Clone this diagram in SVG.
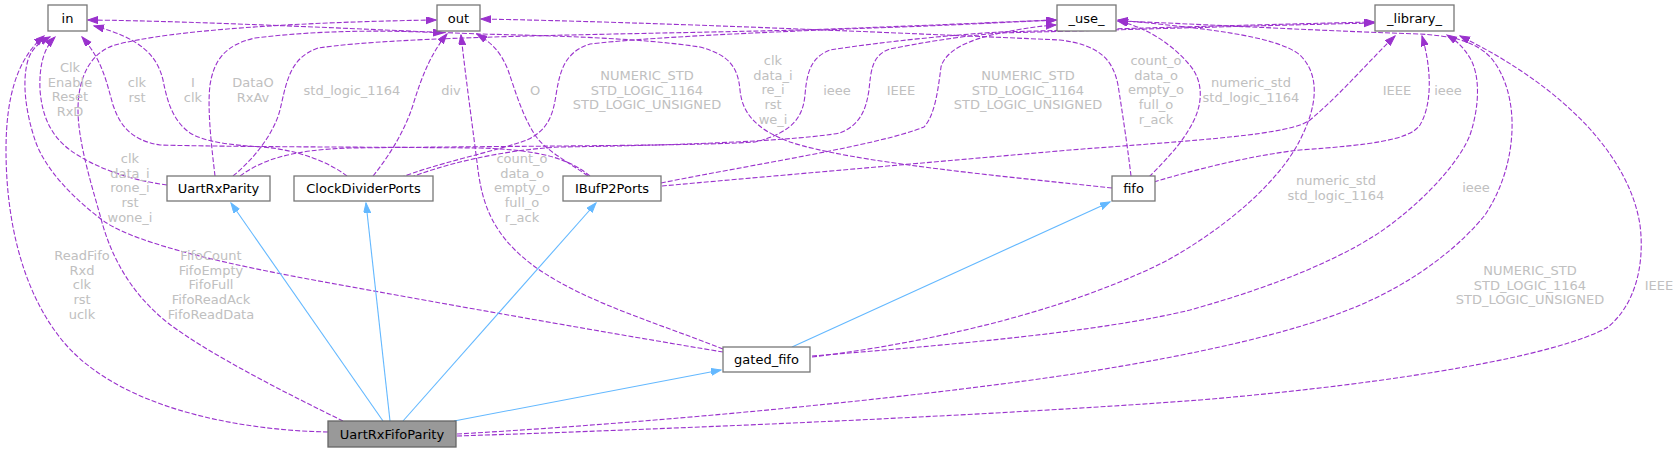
<svg xmlns="http://www.w3.org/2000/svg" width="1680" height="452" viewBox="0 0 1680 452">
<defs>
<marker id="ap" markerUnits="userSpaceOnUse" markerWidth="11" markerHeight="8" refX="10" refY="3.5" orient="auto"><path d="M0,0 L10,3.5 L0,7 z" fill="#9a32cd" stroke="#9a32cd" stroke-width="1"/></marker>
<marker id="ab" markerUnits="userSpaceOnUse" markerWidth="11" markerHeight="8" refX="10" refY="3.5" orient="auto"><path d="M0,0 L10,3.5 L0,7 z" fill="#63b8ff" stroke="#63b8ff" stroke-width="1"/></marker>
</defs>
<style>
.d{fill:none;stroke:#9a32cd;stroke-width:1.1;stroke-dasharray:5,2;marker-end:url(#ap)}
.b{fill:none;stroke:#63b8ff;stroke-width:1.1;marker-end:url(#ab)}
.lb{font-family:"DejaVu Sans",sans-serif;font-size:13px;fill:#c0c0c0;text-anchor:middle}
.nt{font-family:"DejaVu Sans",sans-serif;font-size:13px;fill:#000;text-anchor:middle}
.nb{fill:#fff;stroke:#777;stroke-width:1.3}
.nr{fill:#999;stroke:#666;stroke-width:1.3}
</style>
<rect width="1680" height="452" fill="#fff"/>
<g id="connectors">
<path class="d" d="M 328,432 C 230,430 110,405 58,335 C 20,285 6,215 6,150 C 6,95 18,58 44,36"/>
<path class="d" d="M 723,352 C 620,335 450,305 330,283 C 230,265 140,245 105,222 C 75,200 45,170 35,140 C 25,110 22,80 28,60 C 32,48 40,42 50,37"/>
<path class="d" d="M 167,185 C 130,180 95,168 70,150 C 50,135 42,115 40,90 C 39,65 44,48 55,37"/>
<path class="d" d="M 347,176 C 330,163 300,150 262,147 C 230,145 205,142 190,133 C 172,120 167,100 163,80 C 157,55 140,38 94,26"/>
<path class="d" d="M 590,176 C 570,160 545,150 480,148 C 380,147 230,147 160,145 C 130,140 120,125 113,105 C 106,80 102,60 82,37"/>
<path class="d" d="M 1112,188 C 1000,176 850,162 790,142 C 752,128 742,110 740,90 C 738,68 730,55 700,47 C 640,38 560,36 480,34 C 400,31 200,21 88,20"/>
<path class="d" d="M 343,421 C 290,395 210,355 168,323 C 130,293 110,255 100,215 C 90,180 78,140 78,110 C 78,75 92,52 115,45 C 170,30 300,22 436,20"/>
<path class="d" d="M 723,349 C 650,320 560,295 515,250 C 490,225 482,200 478,170 C 473,130 466,80 461,35"/>
<path class="d" d="M 215,176 C 212,150 207,110 210,85 C 214,60 225,45 255,38 C 320,30 390,30 443,33"/>
<path class="d" d="M 373,176 C 390,155 405,130 413,105 C 422,75 432,52 447,34"/>
<path class="d" d="M 588,176 C 565,160 545,150 535,135 C 522,115 515,90 508,70 C 500,50 490,42 477,34"/>
<path class="d" d="M 1131,176 C 1128,150 1122,110 1118,85 C 1113,60 1100,45 1060,40 C 900,33 650,22 481,19"/>
<path class="d" d="M 233,176 C 255,158 274,133 280,110 C 287,80 290,58 318,48 C 400,36 600,35 800,30 C 920,26 1000,22 1056,20"/>
<path class="d" d="M 400,178 C 430,165 500,150 527,140 C 548,130 553,115 556,95 C 560,70 565,52 590,44 C 640,38 760,32 900,27 C 980,24 1030,21 1056,20"/>
<path class="d" d="M 661,183 C 750,165 880,145 924,127 C 935,115 938,90 941,67 C 945,52 965,40 1001,33 C 1025,28 1040,26 1056,25"/>
<path class="d" d="M 1149,177 C 1168,158 1185,140 1195,118 C 1205,95 1200,75 1187,62 C 1175,48 1150,28 1118,21"/>
<path class="d" d="M 812,357 C 950,340 1080,305 1168,260 C 1230,225 1280,180 1300,140 C 1318,105 1320,75 1300,55 C 1275,35 1200,28 1118,20"/>
<path class="d" d="M 457,434 C 700,420 950,393 1080,373 C 1200,354 1290,333 1348,310 C 1420,282 1465,240 1485,215 C 1505,185 1513,150 1512,120 C 1511,90 1500,65 1486,53 C 1470,40 1450,36 1420,34 C 1300,30 1200,24 1118,21"/>
<path class="d" d="M 240,176 C 262,160 290,150 350,148 C 500,146 700,146 755,142 C 795,132 803,115 805,95 C 807,70 812,57 830,50 C 880,42 950,35 1000,32 C 1150,28 1280,24 1374,22"/>
<path class="d" d="M 404,180 C 440,165 500,150 560,147 C 700,145 800,140 840,133 C 860,125 866,110 869,90 C 871,70 872,55 890,49 C 920,43 960,36 1000,33 C 1150,29 1280,25 1374,23"/>
<path class="d" d="M 662,186 C 750,178 900,165 1070,150 C 1200,140 1290,135 1310,120 C 1340,95 1370,60 1395,36"/>
<path class="d" d="M 1154,182 C 1200,168 1255,155 1300,150 C 1370,145 1410,140 1420,125 C 1432,105 1432,70 1422,36"/>
<path class="d" d="M 812,356 C 950,345 1100,332 1190,310 C 1280,285 1350,255 1390,225 C 1430,195 1460,160 1470,135 C 1480,105 1480,75 1470,58 C 1462,45 1455,40 1447,35"/>
<path class="d" d="M 457,436 C 700,428 1000,415 1200,400 C 1400,383 1560,355 1608,327 C 1635,305 1645,265 1640,225 C 1630,160 1570,90 1460,36"/>
<path class="b" d="M 383,421 L 231,203"/>
<path class="b" d="M 390,421 L 366,203"/>
<path class="b" d="M 403,421 L 596,203"/>
<path class="b" d="M 454,421 L 721,370"/>
<path class="b" d="M 792,347 L 1110,202"/>
</g>
<g id="labels">
<text class="lb" x="70" y="72"><tspan x="70">Clk</tspan><tspan x="70" dy="14.7">Enable</tspan><tspan x="70" dy="14.7">Reset</tspan><tspan x="70" dy="14.7">RxD</tspan></text>
<text class="lb" x="137" y="87"><tspan x="137">clk</tspan><tspan x="137" dy="14.7">rst</tspan></text>
<text class="lb" x="193" y="87"><tspan x="193">I</tspan><tspan x="193" dy="14.7">clk</tspan></text>
<text class="lb" x="253" y="87"><tspan x="253">DataO</tspan><tspan x="253" dy="14.7">RxAv</tspan></text>
<text class="lb" x="352" y="95">std_logic_1164</text>
<text class="lb" x="451" y="95">div</text>
<text class="lb" x="535" y="95">O</text>
<text class="lb" x="647" y="80"><tspan x="647">NUMERIC_STD</tspan><tspan x="647" dy="14.7">STD_LOGIC_1164</tspan><tspan x="647" dy="14.7">STD_LOGIC_UNSIGNED</tspan></text>
<text class="lb" x="773" y="65"><tspan x="773">clk</tspan><tspan x="773" dy="14.7">data_i</tspan><tspan x="773" dy="14.7">re_i</tspan><tspan x="773" dy="14.7">rst</tspan><tspan x="773" dy="14.7">we_i</tspan></text>
<text class="lb" x="837" y="95">ieee</text>
<text class="lb" x="901" y="95">IEEE</text>
<text class="lb" x="1028" y="80"><tspan x="1028">NUMERIC_STD</tspan><tspan x="1028" dy="14.7">STD_LOGIC_1164</tspan><tspan x="1028" dy="14.7">STD_LOGIC_UNSIGNED</tspan></text>
<text class="lb" x="1156" y="65"><tspan x="1156">count_o</tspan><tspan x="1156" dy="14.7">data_o</tspan><tspan x="1156" dy="14.7">empty_o</tspan><tspan x="1156" dy="14.7">full_o</tspan><tspan x="1156" dy="14.7">r_ack</tspan></text>
<text class="lb" x="1251" y="87"><tspan x="1251">numeric_std</tspan><tspan x="1251" dy="14.7">std_logic_1164</tspan></text>
<text class="lb" x="1397" y="95">IEEE</text>
<text class="lb" x="1448" y="95">ieee</text>
<text class="lb" x="1336" y="185"><tspan x="1336">numeric_std</tspan><tspan x="1336" dy="14.7">std_logic_1164</tspan></text>
<text class="lb" x="1476" y="192">ieee</text>
<text class="lb" x="1530" y="275"><tspan x="1530">NUMERIC_STD</tspan><tspan x="1530" dy="14.7">STD_LOGIC_1164</tspan><tspan x="1530" dy="14.7">STD_LOGIC_UNSIGNED</tspan></text>
<text class="lb" x="1659" y="290">IEEE</text>
<text class="lb" x="522" y="163"><tspan x="522">count_o</tspan><tspan x="522" dy="14.7">data_o</tspan><tspan x="522" dy="14.7">empty_o</tspan><tspan x="522" dy="14.7">full_o</tspan><tspan x="522" dy="14.7">r_ack</tspan></text>
<text class="lb" x="130" y="163"><tspan x="130">clk</tspan><tspan x="130" dy="14.7">data_i</tspan><tspan x="130" dy="14.7">rone_i</tspan><tspan x="130" dy="14.7">rst</tspan><tspan x="130" dy="14.7">wone_i</tspan></text>
<text class="lb" x="82" y="260"><tspan x="82">ReadFifo</tspan><tspan x="82" dy="14.7">Rxd</tspan><tspan x="82" dy="14.7">clk</tspan><tspan x="82" dy="14.7">rst</tspan><tspan x="82" dy="14.7">uclk</tspan></text>
<text class="lb" x="211" y="260"><tspan x="211">FifoCount</tspan><tspan x="211" dy="14.7">FifoEmpty</tspan><tspan x="211" dy="14.7">FifoFull</tspan><tspan x="211" dy="14.7">FifoReadAck</tspan><tspan x="211" dy="14.7">FifoReadData</tspan></text>
</g>
<g id="node-in"><rect class="nb" x="48" y="5" width="39" height="26"/><text class="nt" x="67.5" y="22.5">in</text></g>
<g id="node-out"><rect class="nb" x="437" y="5" width="43" height="26"/><text class="nt" x="458.5" y="22.5">out</text></g>
<g id="node-use"><rect class="nb" x="1057" y="5" width="59" height="26"/><text class="nt" x="1086.5" y="22.5">_use_</text></g>
<g id="node-library"><rect class="nb" x="1375" y="5" width="79" height="26"/><text class="nt" x="1414.5" y="22.5">_library_</text></g>
<g id="node-UartRxParity"><rect class="nb" x="167" y="176" width="103" height="25"/><text class="nt" x="218.5" y="193">UartRxParity</text></g>
<g id="node-ClockDividerPorts"><rect class="nb" x="294" y="176" width="139" height="25"/><text class="nt" x="363.5" y="193">ClockDividerPorts</text></g>
<g id="node-IBufP2Ports"><rect class="nb" x="563" y="176" width="98" height="25"/><text class="nt" x="612" y="193">IBufP2Ports</text></g>
<g id="node-fifo"><rect class="nb" x="1112" y="176" width="43" height="25"/><text class="nt" x="1133.5" y="193">fifo</text></g>
<g id="node-gated_fifo"><rect class="nb" x="723" y="347" width="87" height="25"/><text class="nt" x="766.5" y="364">gated_fifo</text></g>
<g id="node-UartRxFifoParity"><rect class="nr" x="328" y="421" width="128" height="26"/><text class="nt" x="392" y="438.5">UartRxFifoParity</text></g>
</svg>
